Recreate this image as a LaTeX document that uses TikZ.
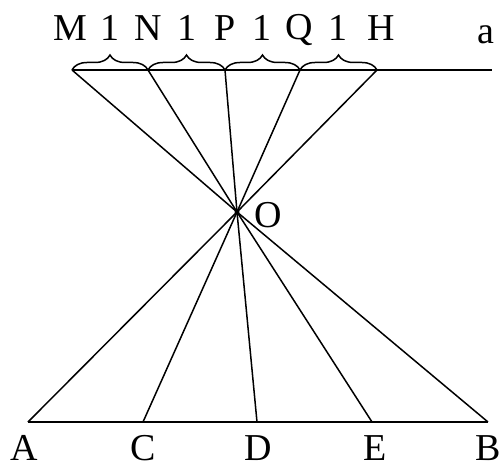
\documentclass[tikz,border=0pt]{standalone}
\usepackage{fontspec}
\setmainfont{Liberation Serif}
\usetikzlibrary{decorations.pathreplacing,calc}

\begin{document}
\begin{tikzpicture}[x=1pt, y=-1pt, line width=1.5pt, every node/.style={inner sep=0pt, font=\fontsize{38}{42}\selectfont}]
    \tikzstyle{unitbrace}=[decorate, decoration={brace, amplitude=15pt}]
    \tikzstyle{ptlabel}=[anchor=center]
    \useasboundingbox (0,0) rectangle (501,468);

    % Points on line a and the line AB
    \coordinate (M) at (72,70);
    \coordinate (N) at (148,70);
    \coordinate (P) at (225,70);
    \coordinate (Q) at (300,70);
    \coordinate (H) at (377,70);
    \coordinate (aend) at (492,70);
    \coordinate (O) at (237,212);
    \coordinate (A) at (28,422);
    \coordinate (C) at (143,422);
    \coordinate (D) at (257,422);
    \coordinate (E) at (372,422);
    \coordinate (B) at (488,422);

    % Lines
    \draw (M) -- (aend);
    \draw (A) -- (B);
    \draw (M) -- (O) -- (B);
    \draw (N) -- (O) -- (E);
    \draw (P) -- (O) -- (D);
    \draw (Q) -- (O) -- (C);
    \draw (H) -- (O) -- (A);
    \fill (O) circle (2.5pt);

    % Braces of unit length
    \draw[unitbrace] (M) -- (N);
    \draw[unitbrace] (N) -- (P);
    \draw[unitbrace] (P) -- (Q);
    \draw[unitbrace] (Q) -- (H);

    % Labels
    \node[ptlabel] (lM) at (70,28) {M};
    \node[ptlabel] (u1) at (110,28) {1};
    \node[ptlabel] (lN) at (148,28) {N};
    \node[ptlabel] (u2) at (187,28) {1};
    \node[ptlabel] (lP) at (225,28) {P};
    \node[ptlabel] (u3) at (262,28) {1};
    \node[ptlabel] (lQ) at (299,30) {Q};
    \node[ptlabel] (u4) at (338,28) {1};
    \node[ptlabel] (lH) at (381,28) {H};
    \node[ptlabel] (la) at (486,35) {a};
    \node[ptlabel] (lO) at (268,215) {O};
    \node[ptlabel] (lA) at (24,448) {A};
    \node[ptlabel] (lC) at (143,448) {C};
    \node[ptlabel] (lD) at (258,448) {D};
    \node[ptlabel] (lE) at (375,448) {E};
    \node[ptlabel] (lB) at (488,448) {B};
\end{tikzpicture}
\end{document}
